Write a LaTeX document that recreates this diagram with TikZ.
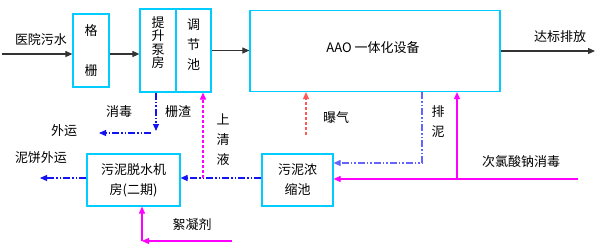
\documentclass[tikz,border=0pt]{standalone}
\usepackage{fontspec}
\setmainfont{Noto Sans CJK SC}
\usetikzlibrary{arrows.meta,positioning}
\definecolor{boxcyan}{RGB}{0,204,255}
\definecolor{sludgeblue}{RGB}{20,20,240}
\definecolor{drainblue}{RGB}{100,100,255}
\definecolor{dosepink}{RGB}{255,0,255}
\definecolor{airred}{RGB}{255,90,90}

\begin{document}
\begin{tikzpicture}[
    x=1pt, y=-1pt,
    every node/.style={font=\fontsize{13}{20}\selectfont, inner sep=0pt},
    unit/.style={rectangle, draw=boxcyan, line width=1.2pt, fill=white, align=center},
    lbl/.style={align=center},
    flow/.style={-{Triangle[length=7pt,width=6pt]}, line width=1.1pt, draw=black!80},
    sludge/.style={-{Triangle[length=7pt,width=6pt]}, line width=1.1pt, draw=sludgeblue,
                   dash pattern=on 7pt off 2pt on 1.5pt off 2pt on 1.5pt off 2pt},
    drain/.style={sludge, draw=drainblue},
    dose/.style={-{Triangle[length=7pt,width=6pt]}, line width=1.1pt, draw=dosepink},
    returnflow/.style={dose, dash pattern=on 3pt off 2pt},
    air/.style={-{Triangle[length=7pt,width=6pt]}, line width=1.1pt, draw=airred,
                dash pattern=on 3pt off 2pt}
]
\useasboundingbox (0,0) rectangle (600,250);

% Units
\node[unit, minimum width=36pt, minimum height=73pt] (screen) at (91,50.5) {格\\[20pt]栅};
\node[unit, minimum width=36pt, minimum height=83pt] (pump)   at (158,50.5) {};
\node[lbl, font=\fontsize{13}{13.5}\selectfont] (pumptxt) at (158,42.5) {提\\升\\泵\\房};
\node[unit, minimum width=35pt, minimum height=83pt] (tank)   at (193.5,50.5) {};
\node[lbl] (tanktxt) at (193.5,45) {调\\节\\池};
\node[unit, minimum width=250pt, minimum height=81pt] (aao) at (375,51) {};
\node (aaotxt) at (373,48) {AAO 一体化设备};
\node[unit, minimum width=71pt, minimum height=52pt] (thick)   at (297.5,180) {污泥浓\\缩池};
\node[unit, minimum width=93pt, minimum height=52pt] (dewater) at (133.5,180) {污泥脱水机\\房(二期)};

% Free ends
\coordinate (src)        at (2,54);
\coordinate (outlet)     at (595,51);
\coordinate (airin)      at (306,135);
\coordinate (drain)      at (422,163);
\coordinate (naclo)      at (578,179);
\coordinate (tee)        at (457,179);
\coordinate (super)      at (203,178);
\coordinate (grit)       at (156,131);
\coordinate (gritend)    at (151,133);
\coordinate (haulend)    at (99,133);
\coordinate (cakeend)    at (40,178);
\coordinate (floc)       at (232,241);
\coordinate (floccorner) at (142,241);

% Labels
\node (influent) at (41,40)   {医院污水};
\node (effluent) at (560,37)  {达标排放};
\node (airlbl)   at (336,118) {曝气};
\node[lbl] (drainlbl) at (438,122) {排\\泥};
\node (nacllbl)  at (521,162) {次氯酸钠消毒};
\node[lbl] (superlbl) at (223,140) {上\\清\\液};
\node (disinf)   at (119,112) {消毒};
\node (gritlbl)  at (178,112) {栅渣};
\node (haul)     at (64,131)  {外运};
\node (cake)     at (41,158)  {泥饼外运};
\node (floclbl)  at (192,225) {絮凝剂};

% Main line
\draw[flow] (src) -- (src -| screen.west);
\draw[flow] (screen.east |- src) -- (pump.west |- src);
\draw[flow] (tank.east) -- (aao.west |- tank.east);
\draw[flow] (aao.east |- outlet) -- (outlet);

% Air and dosing
\draw[air]  (airin) -- (airin |- aao.south);
\draw[dose] (naclo) -- (naclo -| thick.east);
\draw[dose] (tee) -- (tee |- aao.south);
\draw[dose] (floc) -- (floccorner);
\draw[dose] (floccorner) -- (floccorner |- dewater.south);

% Sludge line
\draw[drain] (aao.south -| drain) -- (drain) -- (drain -| thick.east);
\draw[sludge] (thick.west |- super) -- (dewater.east |- super);
\draw[returnflow] (super) -- (super |- tank.south);
\draw[sludge] (dewater.west |- cakeend) -- (cakeend);
\draw[sludge] (grit |- pump.south) -- (grit);
\draw[sludge] (gritend) -- (haulend);

\end{tikzpicture}
\end{document}
